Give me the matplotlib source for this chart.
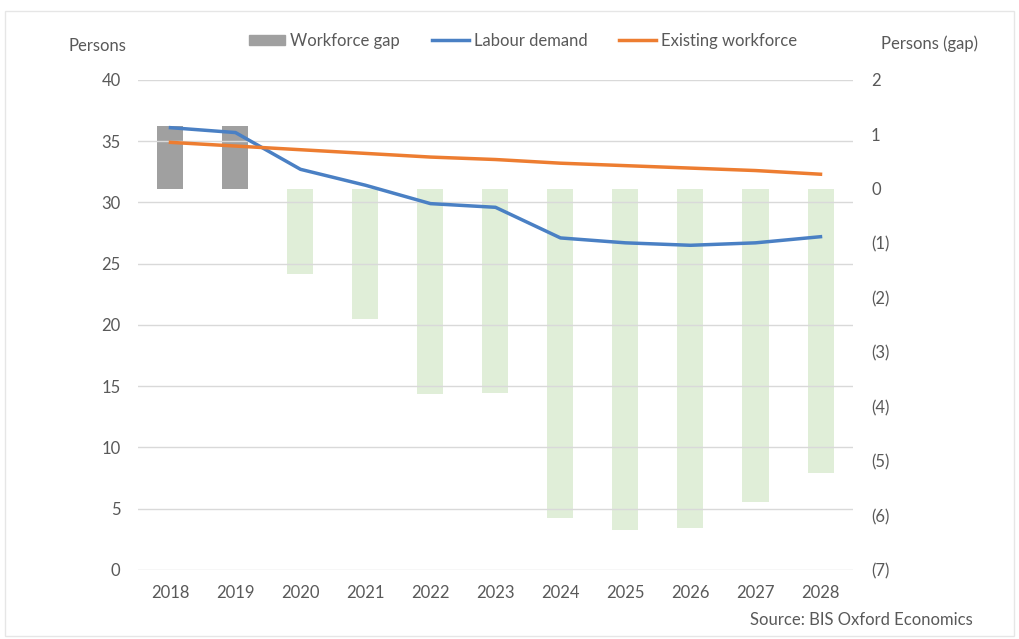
import matplotlib
matplotlib.use("Agg")
import matplotlib.pyplot as plt
from matplotlib.patches import Patch, Rectangle
from matplotlib.lines import Line2D
from matplotlib.ticker import FuncFormatter

plt.rcParams['font.family'] = ['Lato', 'DejaVu Sans']

years = ['2018', '2019', '2020', '2021', '2022', '2023', '2024', '2025', '2026', '2027', '2028']
workforce_gap = [1.15, 1.15, -1.57, -2.40, -3.77, -3.75, -6.05, -6.27, -6.23, -5.76, -5.22]
labour_demand = [36.1, 35.7, 32.7, 31.4, 29.9, 29.6, 27.1, 26.7, 26.5, 26.7, 27.2]
existing_workforce = [34.9, 34.6, 34.3, 34.0, 33.7, 33.5, 33.2, 33.0, 32.8, 32.6, 32.3]

text_c = '#595959'
grid_c = '#d9d9d9'
blue = '#4a80c4'
orange = '#ed7d31'
gray_bar = '#a0a0a0'
green_bar = '#e0eed8'
fs = 12

fig = plt.figure(figsize=(10.19, 6.39), dpi=100)
ax = fig.add_axes([0.1354, 0.108, 0.7017, 0.767])
ax2 = ax.twinx()
ax.set_zorder(ax2.get_zorder() + 1)
ax.patch.set_visible(False)

x = list(range(len(years)))
bar_colors = [gray_bar if v > 0 else green_bar for v in workforce_gap]
ax2.bar(x, workforce_gap, width=0.40, color=bar_colors, zorder=2)
ax2.set_ylim(-7, 2)
ax2.set_yticks(range(-7, 3))
ax2.yaxis.set_major_formatter(FuncFormatter(lambda v, p: f'({abs(int(v))})' if v < 0 else f'{int(v)}'))

ax.plot(x, labour_demand, color=blue, lw=2.5, zorder=3)
ax.plot(x, existing_workforce, color=orange, lw=2.5, zorder=3)
ax.set_ylim(0, 40)
ax.set_yticks(range(0, 41, 5))
ax.set_xlim(-0.5, len(years) - 0.5)
ax.set_xticks(x)
ax.set_xticklabels(years)
ax.yaxis.grid(True, color=grid_c, lw=1)
ax.set_axisbelow(True)

for a in (ax, ax2):
    for s in a.spines.values():
        s.set_visible(False)
    a.tick_params(length=0, colors=text_c, labelsize=fs)
ax.tick_params(axis='y', pad=12.5)
ax2.tick_params(axis='y', pad=13)
ax.tick_params(axis='x', pad=11)

fig.text(0.0955, 0.928, 'Persons', color=text_c, fontsize=fs, ha='center', va='center')
fig.text(0.912, 0.932, 'Persons (gap)', color=text_c, fontsize=fs, ha='center', va='center')
fig.text(0.955, 0.03, 'Source: BIS Oxford Economics', color=text_c, fontsize=fs, ha='right', va='center')

handles = [Patch(color=gray_bar), Line2D([], [], color=blue, lw=2.5), Line2D([], [], color=orange, lw=2.5)]
fig.legend(handles, ['Workforce gap', 'Labour demand', 'Existing workforce'],
           loc='center', bbox_to_anchor=(0.513, 0.936), ncol=3, frameon=False,
           fontsize=fs, labelcolor=text_c, handlelength=2.2, handletextpad=0.3, columnspacing=1.9,
           handleheight=0.6)

fig.patches.append(Rectangle((0.005, 0.005), 0.99, 0.978, transform=fig.transFigure,
                             fill=False, edgecolor='#e6e6e6', lw=1))

fig.savefig('out.png', dpi=100)
